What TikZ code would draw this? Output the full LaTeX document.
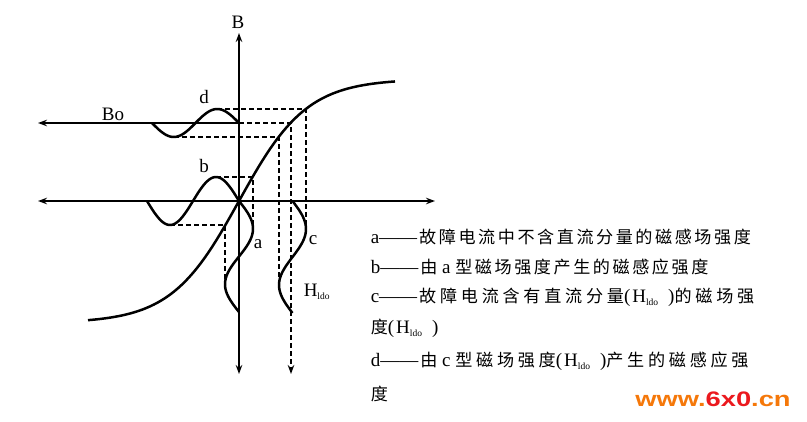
\documentclass[tikz,border=0pt]{standalone}
\usepackage{fontspec}
\usepackage{graphicx}
\setmainfont{Liberation Serif}
\setsansfont{Liberation Sans}
\newfontfamily\cjk[LetterSpace=15,Scale=0.9]{Noto Sans CJK SC}
\newfontfamily\cjkw[LetterSpace=22,Scale=0.9]{Noto Sans CJK SC}
\usetikzlibrary{arrows.meta,positioning}
\newcommand\Hldo{H\lower3pt\hbox{\fontsize{9.5}{9.5}\selectfont ldo}}
\newcommand\PHldo{(\hspace{2pt}\Hldo\hspace{10pt})}
\definecolor{wmorange}{RGB}{245,120,10}
\definecolor{wmred}{RGB}{235,25,30}

\begin{document}
\begin{tikzpicture}[x=1pt,y=-1pt,>={Stealth[length=9pt,width=6.5pt]},line width=1.5pt,
    font=\fontsize{19}{22}\selectfont,
    wave/.style={line width=2.5pt,line join=round},
    guide/.style={line width=1.3pt,dash pattern=on 5pt off 3pt},
    legend/.style={anchor=west,inner sep=0pt},
    declare function={mag(\u)=201-122*tanh((\u-239)/68);}]
\useasboundingbox (0,0) rectangle (807,421);

% axes
\coordinate (O)      at (239,201);
\coordinate (Btop)   at (239,33);
\coordinate (Bbot)   at (239,374);
\coordinate (Hleft)  at (38,201);
\coordinate (Hright) at (435,201);
\coordinate (Bo0)    at (239,123);
\coordinate (Boleft) at (38,123);
\coordinate (cTop)   at (291,123);
\coordinate (cBot)   at (291,374);
\draw[<->] (Bbot) -- (Btop);
\draw[<->] (Hleft) -- (Hright);
\draw[->] (Bo0) -- (Boleft);
\draw[guide,->] (Bo0) -- (cTop) -- (cBot);

% magnetisation curve
\draw[wave] plot[domain=88:395,samples=80] (\x,{mag(\x)});

% waves a, b, c, d
\draw[wave] plot[domain=0:360,samples=50,variable=\t] ({239-\t/360*92},{201-24*sin(\t)});
\draw[wave] plot[domain=0:360,samples=50,variable=\t] ({239+14*sin(\t)},{201+\t/360*111});
\draw[wave] plot[domain=0:360,samples=50,variable=\t] ({239-\t/360*87},{123-14*sin(\t)});
\draw[wave] plot[domain=0:360,samples=50,variable=\t] ({292.5+13.5*sin(\t)},{201+\t/360*112});

% peaks and points on the curve
\coordinate (dpk) at (217,109);  \coordinate (m1) at (306,109); \coordinate (cpk) at (306,229);
\coordinate (dtr) at (174,137);  \coordinate (m2) at (279,137); \coordinate (ctr) at (279,285);
\coordinate (bpk) at (216,177);  \coordinate (m3) at (253,177); \coordinate (apk) at (253,229);
\coordinate (btr) at (170,225);  \coordinate (m4) at (225,225); \coordinate (atr) at (225,284);
\draw[guide] (dpk) -- (m1) -- (cpk);
\draw[guide] (dtr) -- (m2) -- (ctr);
\draw[guide] (bpk) -- (m3) -- (apk);
\draw[guide] (btr) -- (m4) -- (atr);

% labels
\node (Blab) at (238,22) {B};
\node (Bo) at (113,114) {Bo};
\node (dlab) at (204,97) {d};
\node (blab) at (204,166) {b};
\node (alab) at (258,244) {a};
\node (clab) at (313,240) {c};
\node[anchor=west,inner sep=0pt] (hlab) at (303,292) {\Hldo};

% legend
\node[legend] (la)  at (370,237) {a——\hspace{2pt}{\cjk 故障电流中不含直流分量的磁感场强度}};
\node[legend] (lb)  at (370,267) {b——\hspace{2pt}{\cjk 由} a {\cjk 型磁场强度产生的磁感应强度}};
\node[legend] (lc)  at (370,297) {c——\hspace{2pt}{\cjkw 故障电流含有直流分量}\PHldo{\cjkw 的磁场强}};
\node[legend] (lc2) at (370,328) {{\cjk 度}\PHldo};
\node[legend] (ld)  at (370,361) {d——\hspace{2pt}{\cjkw 由} c {\cjkw 型磁场强度}\PHldo{\cjkw 产生的磁感应强}};
\node[legend] (ld2) at (370,394) {{\cjk 度}};

\node (wm) at (713,399) {\scalebox{1.3}[1]{\sffamily\bfseries\fontsize{21}{21}\selectfont\color{wmorange}www.\textcolor{wmred}{6x0}.cn}};
\end{tikzpicture}
\end{document}
